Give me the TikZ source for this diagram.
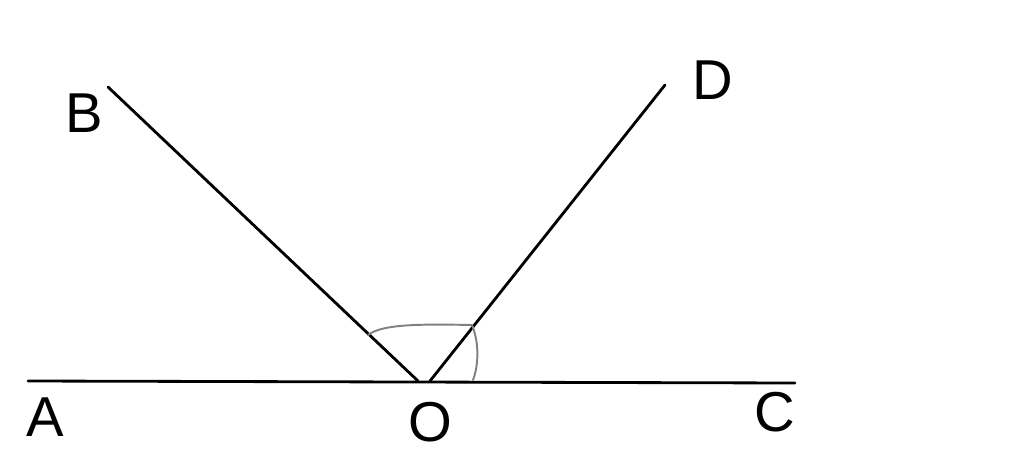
\documentclass[tikz,border=0pt]{standalone}
\usepackage{fontspec}
\setmainfont{Liberation Sans}
\begin{document}
\begin{tikzpicture}[font=\fontsize{32}{38}\selectfont, line join=round, line cap=round, x=0.02cm, y=-0.02cm]
    \tikzset{duong/.style={line width=1.6pt}, goc/.style={gray, line width=1.1pt}}
    \useasboundingbox (0,0) rectangle (1024,470);
    \coordinate (A) at (28,381); \coordinate (C) at (795,383);
    \coordinate (B) at (108,87); \coordinate (O1) at (418,381);
    \coordinate (D) at (665,85); \coordinate (O2) at (430,381);
    \draw[duong] (A)--(C);
    \draw[duong] (B)--(O1);
    \draw[duong] (D)--(O2);
    % ky hieu goc
    \draw[goc] (368,335) .. controls (382,324) and (420,324) .. (472,325)
        .. controls (479,342) and (479,364) .. (473,380);
    \node (nA) at (45,417) {A};
    \node (nO) at (430,422) {O};
    \node (nC) at (775,412) {C};
    \node (nB) at (84,113) {B};
    \node (nD) at (713,80) {D};
\end{tikzpicture}
\end{document}
